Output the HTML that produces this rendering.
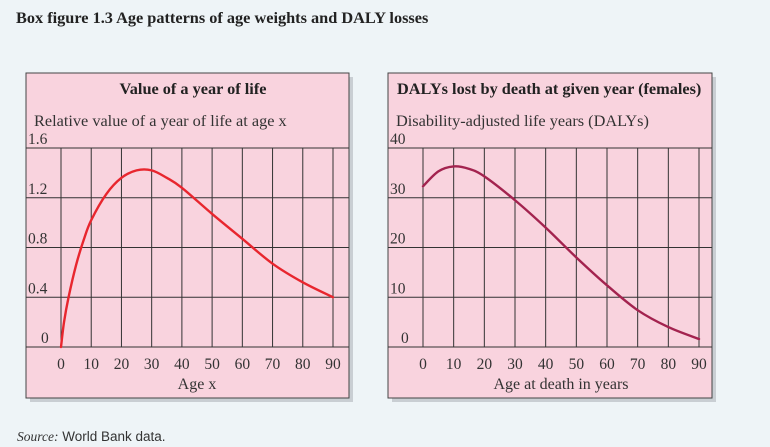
<!DOCTYPE html>
<html><head><meta charset="utf-8"><style>
html,body{margin:0;padding:0;background:#eef4f7;}
body{width:770px;height:447px;position:relative;overflow:hidden;font-family:"Liberation Serif",serif;}
svg{position:absolute;left:0;top:0;}
</style></head><body>
<svg width="770" height="447" id="fig">
<text x="16" y="23" font-size="16.3" font-weight="bold" fill="#222">Box figure 1.3  Age patterns of age weights and DALY losses</text>
<text x="17" y="441" font-size="13.5" fill="#333" font-family="Liberation Sans, sans-serif"><tspan font-style="italic" font-family="Liberation Serif, serif">Source:</tspan>  World Bank data.</text>
</svg>
<script>
const ages=[0,10,20,30,40,50,60,70,80,90];
const leftX=[0,1,2.5,5,7.5,10,15,20,25,30,35,40,50,60,70,80,90];
const leftY=[0,0.2,0.4,0.66,0.86,1.02,1.23,1.36,1.42,1.42,1.36,1.28,1.07,0.87,0.67,0.52,0.40];
const leftTicks=["0","0.4","0.8","1.2","1.6"];
const rightX=[0,5,10,15,20,30,40,50,60,70,80,90];
const rightY=[32.3,35.3,36.3,35.8,34.3,29.5,24,18,12.4,7.4,4,1.6];
const rightTicks=["0","10","20","30","40"];
const NS="http://www.w3.org/2000/svg";
const svg=document.getElementById('fig');
function mk(t,a,p){const e=document.createElementNS(NS,t);for(const k in a)e.setAttribute(k,a[k]);(p||svg).appendChild(e);return e;}
function smooth(pts){let d="M"+pts[0][0]+","+pts[0][1];for(let i=0;i<pts.length-1;i++){const p0=pts[i-1]||pts[i],p1=pts[i],p2=pts[i+1],p3=pts[i+2]||p2;d+=" C"+(p1[0]+(p2[0]-p0[0])/6)+","+(p1[1]+(p2[1]-p0[1])/6)+" "+(p2[0]-(p3[0]-p1[0])/6)+","+(p2[1]-(p3[1]-p1[1])/6)+" "+p2[0]+","+p2[1];}return d;}
function panel(o){
  const g=mk('g',{});
  const sh=mk('rect',{x:o.bx+4,y:o.by+4,width:o.bw,height:o.bh,fill:'#c9ced3'},g);
  
  const bg=mk('rect',{x:o.bx,y:o.by,width:o.bw,height:o.bh,fill:'#f9d3de',stroke:'#444','stroke-width':1},g);
  
  const y0=347,y1=148,ymax=o.ymax;
  const sx=v=>o.x0+(v/90)*(o.x90-o.x0);
  const sy=v=>y0-(v/ymax)*(y0-y1);
  o.ticks.forEach((t,i)=>{
    const v=ymax*i/(o.ticks.length-1),y=sy(v);
    const l=mk('line',{x1:o.bx,x2:o.bx+o.bw,y1:y,y2:y,stroke:'#333','stroke-width':1},g);
    
    const tx=mk('text',{x:o.bx+(t==="0"?o.zeroDx:2),y:y-4,'font-size':15.5,fill:'#333'},g);tx.textContent=t;
    
  });
  ages.forEach(a=>{
    const x=sx(a);
    const l=mk('line',{x1:x,x2:x,y1:y1,y2:y0,stroke:'#333','stroke-width':1},g);
    
    const tx=mk('text',{x:x,y:369,'font-size':15.5,fill:'#333','text-anchor':'middle'},g);tx.textContent=a;
    
  });
  const pts=o.xs.map((v,i)=>[sx(v),sy(o.ys[i])]);
  const p=mk('path',{d:smooth(pts),fill:'none',stroke:o.color,'stroke-width':2.4,'stroke-linecap':'round'},g);
  
  const t1=mk('text',{x:o.tx,y:94,'font-size':16.3,'font-weight':'bold',fill:'#222','text-anchor':o.tanchor},g);t1.textContent=o.title;
  
  const t2=mk('text',{x:o.bx+8,y:126,'font-size':16.3,fill:'#333'},g);t2.textContent=o.sub;
  
  const t3=mk('text',{x:(sx(0)+sx(90))/2,y:389,'font-size':16,fill:'#333','text-anchor':'middle'},g);t3.textContent=o.xt;
  
}
panel({name:'value-of-year-chart',bx:26,by:73,bw:323,bh:325,x0:61,x90:333,ymax:1.6,ticks:leftTicks,xs:leftX,ys:leftY,color:'#e8262e',title:'Value of a year of life',tx:193,tanchor:'middle',sub:'Relative value of a year of  life at age x',xt:'Age x',zeroDx:15});
panel({name:'dalys-lost-chart',bx:388,by:73,bw:324,bh:325,x0:423,x90:699,ymax:40,ticks:rightTicks,xs:rightX,ys:rightY,color:'#a3234f',title:'DALYs lost by death at given year (females)',tx:397,tanchor:'start',sub:'Disability-adjusted life years (DALYs)',xt:'Age at death in years',zeroDx:13});
</script>
</body></html>
